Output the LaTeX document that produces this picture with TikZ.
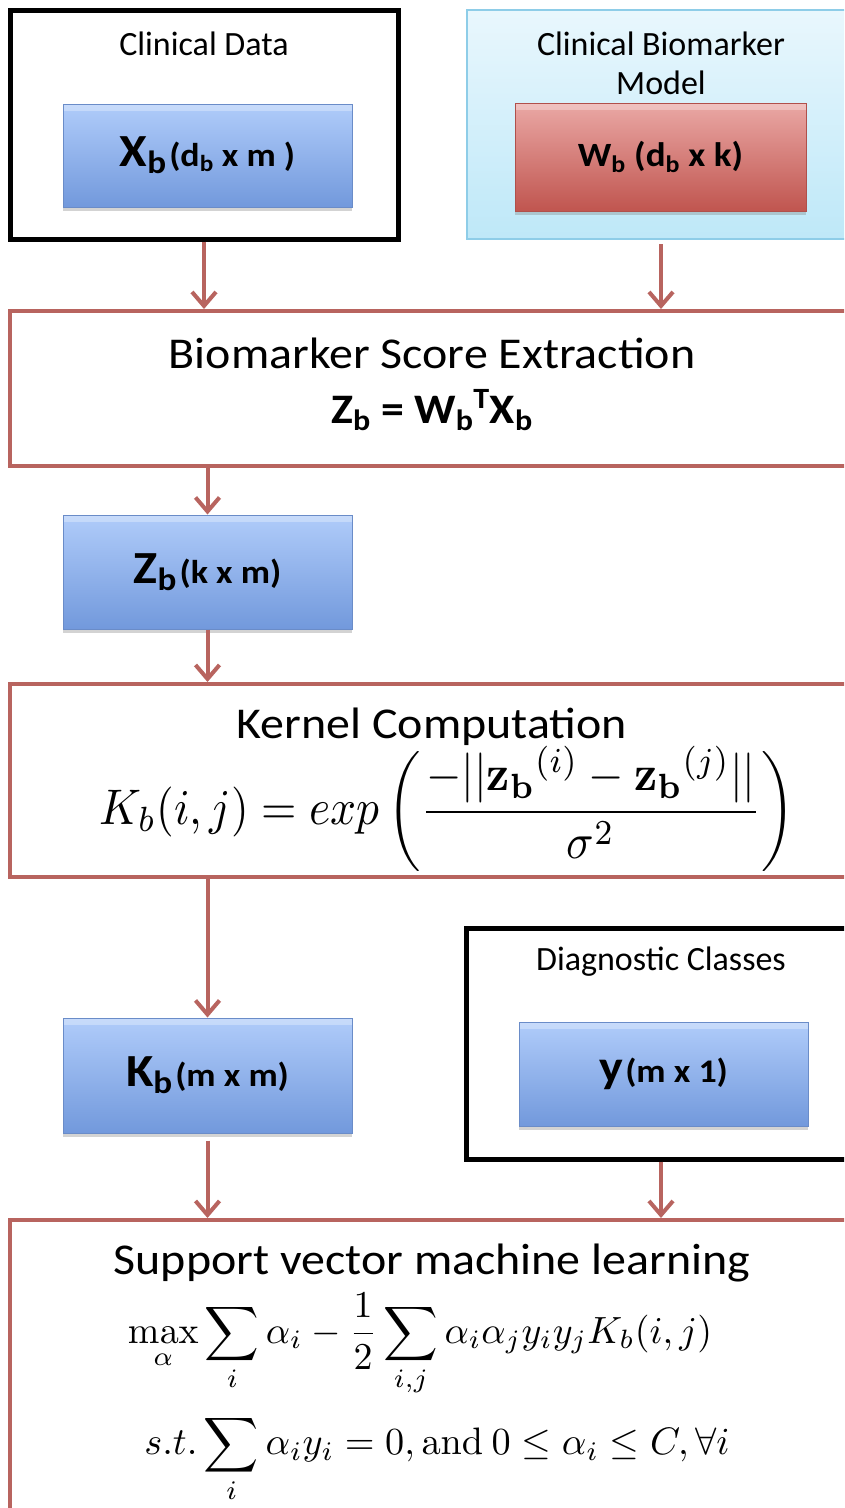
\RequirePackage{fix-cm}
\documentclass[tikz,border=0pt]{standalone}
\usepackage{amsmath}
\usepackage{graphicx}
\usepackage[no-math]{fontspec}
\setmainfont{Carlito}
\usetikzlibrary{arrows.meta,shadows}

\definecolor{linkred}{HTML}{B8645F}
\definecolor{blueTop}{HTML}{B0CCFA}
\definecolor{blueBot}{HTML}{7299DC}
\definecolor{blueLine}{HTML}{6A8CC8}
\definecolor{redTop}{HTML}{EAA8A5}
\definecolor{redBot}{HTML}{C0554F}
\definecolor{redLine}{HTML}{B0504B}
\definecolor{skyTop}{HTML}{E9F7FD}
\definecolor{skyBot}{HTML}{BEE8F8}
\definecolor{skyLine}{HTML}{8ECDE8}

\newcommand{\wider}[1]{\scalebox{1.09}[1]{#1}}
\newcommand{\boxlabel}[2]{\wider{{\fontsize{46}{50}\selectfont\bfseries #1} {\fontsize{33}{36}\selectfont\bfseries #2}}}

\tikzset{
  blackframe/.style={draw=black, line width=5pt, inner sep=0pt},
  stepframe/.style={draw=linkred, line width=4pt, inner sep=0pt, minimum width=844pt},
  bevel/.style={path picture={\fill[white, opacity=0.3] ([yshift=-7pt]path picture bounding box.north west) rectangle (path picture bounding box.north east);}},
  bluebox/.style={rectangle, top color=blueTop, bottom color=blueBot, draw=blueLine, line width=1pt, bevel,
    minimum width=289pt, inner sep=0pt, drop shadow={opacity=0.35, shadow xshift=0pt, shadow yshift=-4pt}},
  link/.style={draw=linkred, line width=4pt, -{Straight Barb[length=14pt,width=24pt]}},
  title/.style={font=\fontsize{34}{39}\selectfont, align=center, inner sep=0pt},
  bigtitle/.style={font=\fontsize{44}{50}\selectfont, inner sep=0pt},
  mathline/.style={inner sep=0pt}
}

\begin{document}
\begin{tikzpicture}[x=1pt,y=-1pt]
  \useasboundingbox (0,0) rectangle (844,1508);
  \clip (0,0) rectangle (844,1508);

  % inputs
  \node[blackframe, minimum width=388pt, minimum height=229pt] (cd) at (204,124.5) {};
  \node[title] (cdtitle) at (204,44) {Clinical Data};
  \node[bluebox, minimum height=103pt] (xb) at (207.5,155.5) {\boxlabel{X\textsubscript{b}}{(d\textsubscript{b} x m )}};

  \node[draw=skyLine, line width=2pt, top color=skyTop, bottom color=skyBot, inner sep=0pt,
    minimum width=388pt, minimum height=229pt] (cbm) at (661,124.5) {};
  \node[title] (cbmtitle) at (661,63) {Clinical Biomarker\\Model};
  \node[rectangle, top color=redTop, bottom color=redBot, draw=redLine, line width=1pt, inner sep=0pt, bevel,
    minimum width=291pt, minimum height=108pt, drop shadow={opacity=0.35, shadow xshift=0pt, shadow yshift=-4pt}]
    (wb) at (660.5,157) {\wider{\fontsize{34}{38}\selectfont\bfseries W\textsubscript{b} (d\textsubscript{b} x k)}};

  % score extraction
  \node[stepframe, minimum height=155pt] (bse) at (432,388.5) {};
  \node[bigtitle] (bsetitle) at (432,353) {\wider{Biomarker Score Extraction}};
  \node[font=\fontsize{42}{46}\selectfont\bfseries, inner sep=0pt] (bseeq) at (432,410)
    {\wider{Z\textsubscript{b} = W\textsubscript{b}\textsuperscript{T}X\textsubscript{b}}};
  \node[bluebox, minimum height=114pt] (zb) at (207.5,572) {\boxlabel{Z\textsubscript{b}}{(k x m)}};

  % kernel
  \node[stepframe, minimum height=193pt] (kc) at (432,780.5) {};
  \node[bigtitle] (kctitle) at (432,727) {\wider{Kernel Computation}};
  \node[mathline] (kceq) at (447,809)
    {\scalebox{1}[1.1]{\resizebox{695pt}{!}{$\displaystyle K_b(i,j) = exp\left(\frac{-||{\mathbf{z_b}}^{(i)}-{\mathbf{z_b}}^{(j)}||}{\sigma^2}\right)$}}};
  \node[bluebox, minimum height=115pt] (kb) at (207.5,1075.5) {\boxlabel{K\textsubscript{b}}{(m x m)}};

  \node[blackframe, minimum width=390pt, minimum height=231pt] (dc) at (661,1043.5) {};
  \node[title] (dctitle) at (661,962) {Diagnostic Classes};
  \node[bluebox, minimum height=104pt] (y) at (663.5,1074) {\boxlabel{y}{(m x 1)}};

  % svm
  \node[stepframe, minimum height=340pt] (svm) at (432,1390) {};
  \node[bigtitle] (svmtitle) at (432,1263) {\wider{Support vector machine learning}};
  \node[mathline] (svmeq) at (420,1345)
    {\resizebox{584pt}{!}{$\displaystyle \max_{\alpha}\sum_i \alpha_i - \frac{1}{2}\sum_{i,j}\alpha_i\alpha_j y_i y_j K_b(i,j)$}};
  \node[mathline] (svmst) at (437,1459)
    {\resizebox{585pt}{!}{$\displaystyle s.t.\sum_i \alpha_i y_i = 0, \mathrm{and}\ 0 \leq \alpha_i \leq C, \forall i$}};

  \draw[link] (cd.south) -- (cd.south |- bse.north);
  \draw[link, shorten <=4pt] (cbm.south) -- (cbm.south |- bse.north);
  \draw[link] (zb.north |- bse.south) -- (zb.north);
  \draw[link] (zb.south) -- (zb.south |- kc.north);
  \draw[link] (kb.north |- kc.south) -- (kb.north);
  \draw[link, shorten <=7pt] (kb.south) -- (kb.south |- svm.north);
  \draw[link] (dc.south) -- (dc.south |- svm.north);
\end{tikzpicture}
\end{document}
